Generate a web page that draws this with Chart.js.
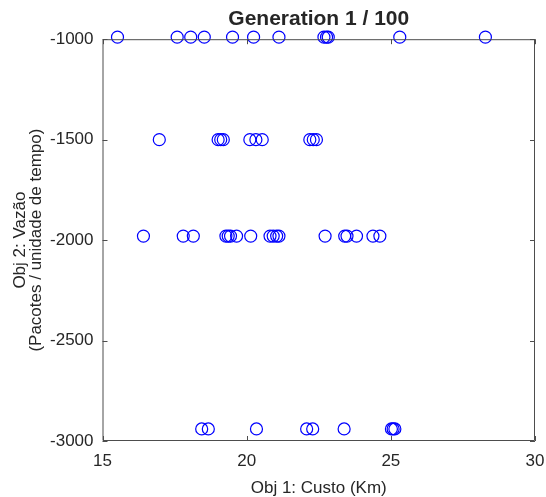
<!DOCTYPE html>
<html>
<head>
<meta charset="utf-8">
<script src="https://cdn.jsdelivr.net/npm/chart.js@4/dist/chart.umd.min.js"></script>
<style>
  html, body { margin: 0; padding: 0; background: #fff; }
  #wrap { width: 546px; height: 497px; }
</style>
</head>
<body>
<div id="wrap"><canvas id="gen"></canvas></div>
<script>
// Valores (Obj 1 = custo, Obj 2 = vazão)
const custoRow1 = [15.52, 17.59, 18.06, 18.53, 19.51, 20.24, 21.12, 22.68, 22.77, 22.83, 25.31, 28.28];
const vazaoRow1 = -990;
const custoRow2 = [16.97, 19.01, 19.10, 19.19, 20.11, 20.32, 20.54, 22.19, 22.31, 22.42];
const vazaoRow2 = -1500;
const custoRow3 = [16.42, 17.80, 18.15, 19.28, 19.36, 19.44, 19.65, 20.14, 20.81, 20.92, 21.04, 21.12, 22.72, 23.40, 23.48, 23.81, 24.38, 24.62];
const vazaoRow3 = -1980;
const custoRow4 = [18.44, 18.67, 20.34, 22.08, 22.29, 23.38, 25.02, 25.08, 25.14];
const vazaoRow4 = -2940;

const xTicks = [15, 20, 25, 30];
const yTicks = [-3000, -2500, -2000, -1500, -1000];

const rows = [[custoRow1, vazaoRow1], [custoRow2, vazaoRow2], [custoRow3, vazaoRow3], [custoRow4, vazaoRow4]];
const pontos = [];
rows.forEach(([xs, y]) => xs.forEach(x => pontos.push({ x: x, y: y })));

const TXT = '#262626';
const AXIS = '#4d4d4d';
const FONT = 'Liberation Sans, Arial, sans-serif';

// moldura + ticks para dentro (estilo MATLAB)
const boxPlugin = {
  id: 'box',
  afterDraw(chart) {
    const { ctx, chartArea: a, scales } = chart;
    const t = 5;
    ctx.save();
    ctx.strokeStyle = AXIS;
    ctx.lineWidth = 1;
    ctx.beginPath();
    ctx.rect(a.left + 0.5, a.top + 0.5, a.right - a.left - 1, a.bottom - a.top - 1);
    xTicks.forEach(v => {
      const px = Math.round(scales.x.getPixelForValue(v)) + 0.5;
      ctx.moveTo(px, a.bottom); ctx.lineTo(px, a.bottom - t);
      ctx.moveTo(px, a.top); ctx.lineTo(px, a.top + t);
    });
    yTicks.forEach(v => {
      const py = Math.round(scales.y.getPixelForValue(v)) + 0.5;
      ctx.moveTo(a.left, py); ctx.lineTo(a.left + t, py);
      ctx.moveTo(a.right, py); ctx.lineTo(a.right - t, py);
    });
    ctx.stroke();
    ctx.restore();
  }
};

new Chart(document.getElementById('gen'), {
  type: 'scatter',
  data: {
    datasets: [{
      data: pontos,
      pointStyle: 'circle',
      pointRadius: 6,
      pointHoverRadius: 6,
      borderWidth: 1.2,
      borderColor: '#0000ff',
      backgroundColor: 'rgba(0,0,0,0)',
      clip: false
    }]
  },
  options: {
    responsive: true,
    maintainAspectRatio: false,
    animation: false,
    layout: { autoPadding: false, padding: { left: 0, right: 11, top: 0, bottom: 0 } },
    plugins: {
      legend: { display: false },
      tooltip: { enabled: false },
      title: {
        display: true,
        fullSize: false,
        text: 'Generation 1 / 100',
        color: TXT,
        font: { family: FONT, size: 21, weight: 'bold', lineHeight: 1.2 },
        padding: { top: 7, bottom: 7 }
      }
    },
    scales: {
      x: {
        type: 'linear',
        min: 15, max: 30,
        grid: { display: false, drawTicks: false },
        border: { display: false },
        afterBuildTicks: s => { s.ticks = xTicks.map(v => ({ value: v })); },
        afterFit: s => { s.height = 56; s.paddingLeft = 0; s.paddingRight = 0; },
        ticks: { color: TXT, padding: 10, font: { family: FONT, size: 17 }, callback: v => String(v) },
        title: {
          display: true,
          text: 'Obj 1: Custo (Km)',
          color: TXT,
          font: { family: FONT, size: 17, lineHeight: 1.0 },
          padding: { top: 0, bottom: 0 }
        }
      },
      y: {
        type: 'linear',
        min: -3000, max: -1000,
        grid: { display: false, drawTicks: false },
        border: { display: false },
        afterBuildTicks: s => { s.ticks = yTicks.map(v => ({ value: v })); },
        afterFit: s => { s.width = 102.5; s.paddingTop = 0; s.paddingBottom = 0; },
        ticks: { color: TXT, padding: 9, font: { family: FONT, size: 17 }, callback: v => String(v) },
        title: {
          display: true,
          text: ['Obj 2: Vazão', '(Pacotes / unidade de tempo)'],
          color: TXT,
          font: { family: FONT, size: 17, lineHeight: 0.9 },
          padding: { top: 13, bottom: 0 }
        }
      }
    }
  },
  plugins: [boxPlugin]
});
</script>
</body>
</html>
